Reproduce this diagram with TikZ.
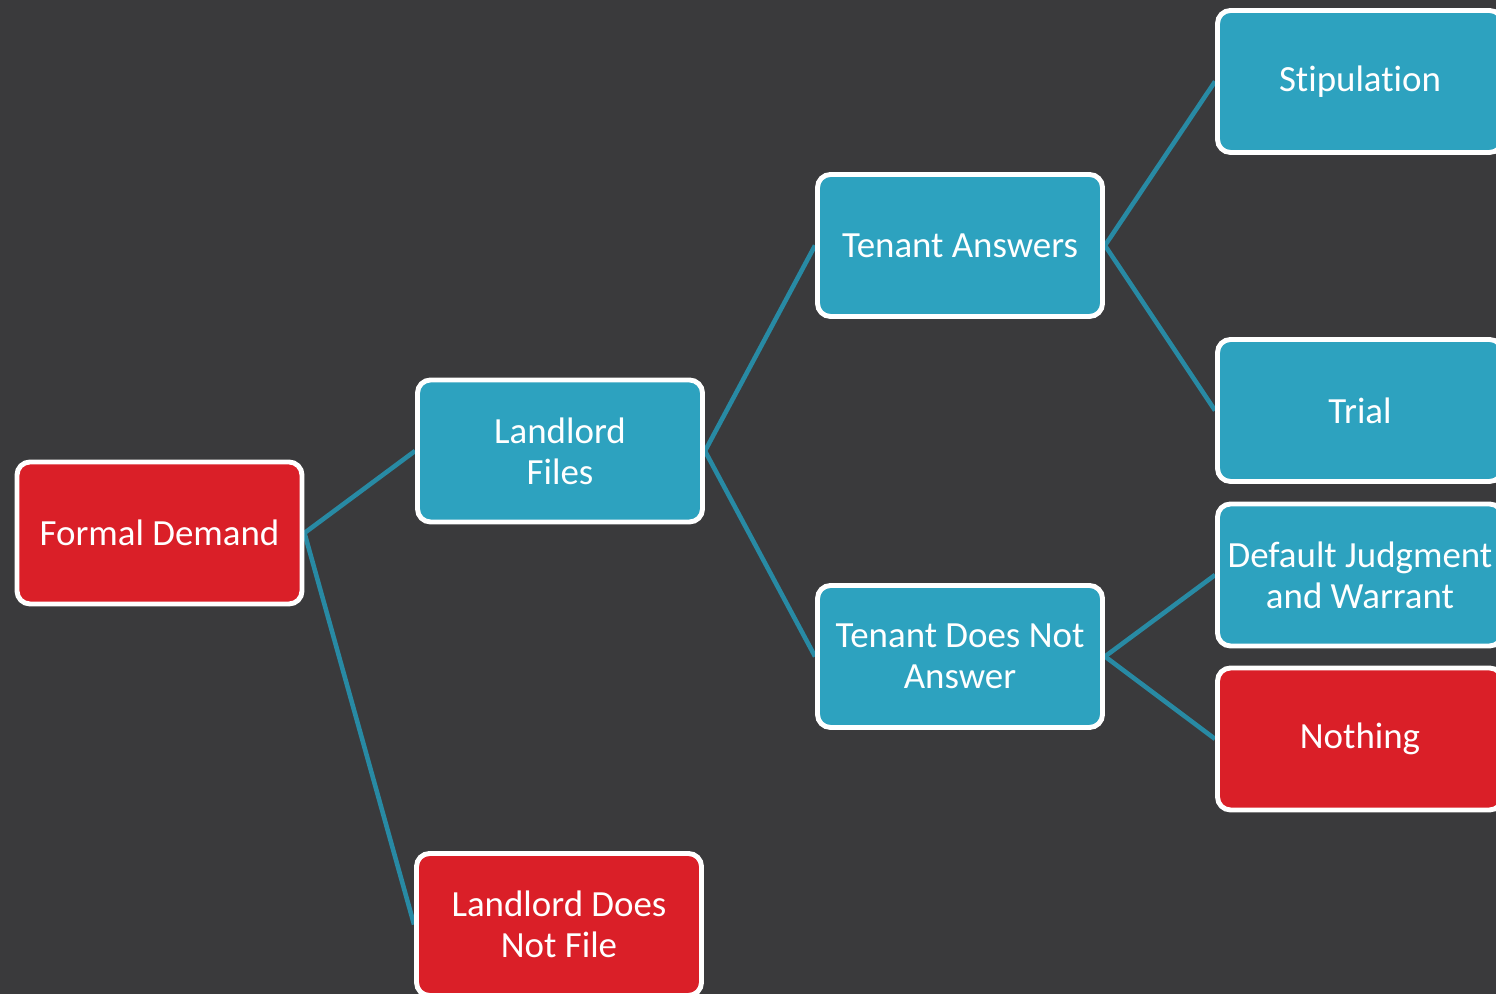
\documentclass[tikz,border=0pt]{standalone}
\usepackage{fontspec}
\setmainfont{Carlito}[Ligatures=NoCommon]
\usepackage{tikz}
\usetikzlibrary{backgrounds}
\usepackage{xcolor}
\definecolor{slate}{RGB}{58,58,60}
\definecolor{caseblue}{RGB}{45,162,191}
\definecolor{casered}{RGB}{218,31,40}
\definecolor{linkteal}{RGB}{40,138,164}
\tikzset{
  stage/.style={rectangle, draw=white, line width=1.4pt, fill=caseblue,
    rounded corners=0.13cm, minimum width=2.85cm, minimum height=1.42cm,
    inner sep=0pt, align=center, text=white,
    font=\fontsize{10.5}{11.7}\selectfont},
  stageR/.style={stage, fill=casered},
  link/.style={draw=linkteal, line width=1.3pt},
}

\begin{document}
\begin{tikzpicture}
  \useasboundingbox (0,0) rectangle (14.96,9.94);
  \clip (0,0) rectangle (14.96,9.94);

  % Demand and filing
  \node[stageR] (demand) at (1.595,4.61) {Formal Demand};
  \node[stage]  (files)  at (5.60,5.43)  {Landlord\\Files};
  \node[stageR] (nofile) at (5.59,0.695) {Landlord Does\\Not File};

  % Tenant response
  \node[stage] (answers)  at (9.60,7.485) {Tenant Answers};
  \node[stage] (noanswer) at (9.60,3.375) {Tenant Does Not\\Answer};

  % Outcomes
  \node[stage]  (stip)    at (13.60,9.125) {Stipulation};
  \node[stage]  (trial)   at (13.60,5.835) {Trial};
  \node[stage]  (default) at (13.60,4.19)  {Default Judgment\\and Warrant};
  \node[stageR] (nothing) at (13.60,2.55)  {Nothing};

  \begin{scope}[on background layer]
    \fill[slate] (0,0) rectangle (14.96,9.94);
    \draw[link] (demand.east) -- (files.west);
    \draw[link] (demand.east) -- (nofile.west);
    \draw[link] (files.east) -- (answers.west);
    \draw[link] (files.east) -- (noanswer.west);
    \draw[link] (answers.east) -- (stip.west);
    \draw[link] (answers.east) -- (trial.west);
    \draw[link] (noanswer.east) -- (default.west);
    \draw[link] (noanswer.east) -- (nothing.west);
  \end{scope}
\end{tikzpicture}
\end{document}
